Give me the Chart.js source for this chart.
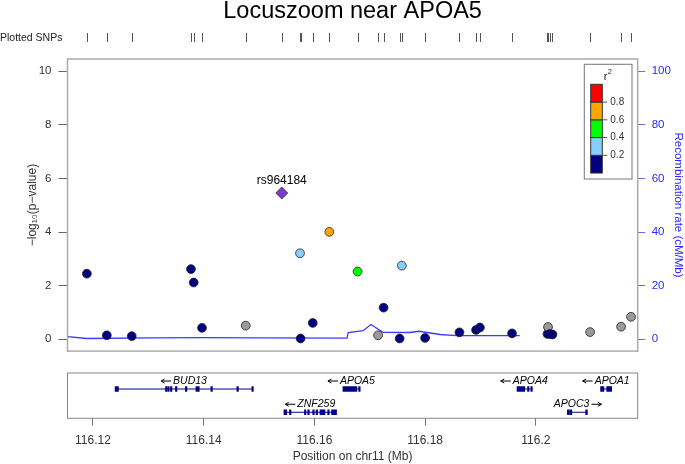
<!DOCTYPE html>
<html>
<head>
<meta charset="utf-8">
<script src="https://cdn.jsdelivr.net/npm/chart.js@4"></script>
<style>
html, body { margin: 0; padding: 0; background: #fff; }
#wrap { position: relative; width: 685px; height: 464px; }
#main { position: absolute; left: 0; top: 0; }
#genes { position: absolute; left: 0; top: 365px; }
</style>
</head>
<body>
<div id="wrap">
  <canvas id="main" width="685" height="365"></canvas>
  <canvas id="genes" width="685" height="99"></canvas>
</div>
<script>
// region shown (Mb on chr11) and tick labels
const xRange = [116.1154, 116.2184];
const xTicks = [116.12, 116.14, 116.16, 116.18, 116.2];
const pTicks = [0, 2, 4, 6, 8, 10];
const recTicks = [0, 20, 40, 60, 80, 100];

// SNPs: position (Mb), -log10(p), r2 with the lead SNP (null = no LD info)
const snpPos = [116.1189, 116.1225, 116.1270, 116.1377, 116.1382, 116.1397, 116.1476,
  116.1574, 116.1575, 116.1597, 116.1627, 116.1678, 116.1715, 116.1725, 116.1754,
  116.1758, 116.1800, 116.1862, 116.1892, 116.1899, 116.1957, 116.2021, 116.2022,
  116.2025, 116.2030, 116.2098, 116.2154, 116.2172];
const snpLogP = [2.45, 0.15, 0.12, 2.62, 2.12, 0.43, 0.51,
  3.21, 0.03, 0.61, 4.01, 2.53, 0.15, 1.18, 0.03,
  2.75, 0.05, 0.26, 0.35, 0.44, 0.22, 0.20, 0.46,
  0.20, 0.18, 0.27, 0.47, 0.84];
const snpR2 = [0.1, 0.1, 0.1, 0.1, 0.1, 0.1, null,
  0.3, 0.1, 0.1, 0.7, 0.5, null, 0.1, 0.1,
  0.3, 0.1, 0.1, 0.1, 0.1, 0.1, 0.1, null,
  0.1, 0.1, null, null, null];

const leadName = 'rs964184';
const leadPos = 116.1541;
const leadLogP = 5.46;

// recombination rate (cM/Mb)
const recPos = [116.1154, 116.1189, 116.1300, 116.1400, 116.1500, 116.1659, 116.1661,
  116.1688, 116.1702, 116.1724, 116.1772, 116.1789, 116.1827, 116.1857, 116.1971];
const recRate = [1.0, 0.3, 0.5, 0.65, 0.5, 0.45, 2.5, 3.2, 5.5, 2.6, 2.55, 3.0, 1.8, 1.4, 1.4];

// LD colour key
const ldBreaks = [0, 0.2, 0.4, 0.6, 0.8, 1];
const ldColors = ['#000080', '#87CEFA', '#00FF00', '#FFA500', '#FF0000'];
const noLdColor = '#9a9a9a';
const leadColor = '#7D3CC8';

// genes
const geneNames = ['BUD13', 'ZNF259', 'APOA5', 'APOA4', 'APOC3', 'APOA1'];
const geneStart = [116.1240, 116.1545, 116.16515, 116.1966, 116.2058, 116.2117];
const geneEnd = [116.1489, 116.1640, 116.16822, 116.1992, 116.2093, 116.2137];
const geneStrand = ['-', '-', '-', '-', '+', '-'];
const geneRow = [1, 2, 1, 1, 2, 1];
const geneExons = [
  [[116.1240, 116.1246], [116.1332], [116.1336], [116.1341], [116.1350], [116.1368],
   [116.1386, 116.1392], [116.1414], [116.1461], [116.1488]],
  [[116.1545, 116.1550], [116.1556], [116.1583], [116.1589], [116.1598], [116.1604],
   [116.1610, 116.1619], [116.1625], [116.1631, 116.1640]],
  [[116.16515, 116.1673], [116.1675], [116.1681]],
  [[116.1966, 116.1980], [116.1986], [116.1992]],
  [[116.2058], [116.2061, 116.2065], [116.2090, 116.2093]],
  [[116.2117, 116.2123], [116.2128, 116.2137]]
];

Chart.defaults.font.family = '"Liberation Sans", Arial, sans-serif';
Chart.defaults.color = '#333';

function ldColor(r2) {
  if (r2 === null) return noLdColor;
  for (let i = 0; i < ldColors.length; i++) {
    if (r2 >= ldBreaks[i] && r2 < ldBreaks[i + 1]) return ldColors[i];
  }
  return ldColors[ldColors.length - 1];
}

const mainDecor = {
  id: 'mainDecor',
  afterDatasetsDraw(chart) {
    const {ctx, scales} = chart;
    ctx.save();
    ctx.font = '12px "Liberation Sans"';
    ctx.fillStyle = '#000';
    ctx.textAlign = 'center';
    ctx.textBaseline = 'middle';
    ctx.fillText(leadName, scales.x.getPixelForValue(leadPos), scales.y.getPixelForValue(leadLogP) - 12);
    ctx.restore();
  },
  afterDraw(chart) {
    const {ctx, chartArea: a, scales} = chart;
    ctx.save();
    // frame
    ctx.strokeStyle = '#aaa';
    ctx.lineWidth = 1.5;
    ctx.strokeRect(a.left, a.top, a.right - a.left, a.bottom - a.top);

    // title
    ctx.fillStyle = '#000';
    ctx.font = '23.5px "Liberation Sans"';
    ctx.textAlign = 'center';
    ctx.textBaseline = 'middle';
    ctx.fillText('Locuszoom near APOA5', (a.left + a.right) / 2, 12);

    // plotted SNPs rug
    ctx.font = '10.5px "Liberation Sans"';
    ctx.textAlign = 'left';
    ctx.fillStyle = '#222';
    ctx.fillText('Plotted SNPs', 0, 38);
    ctx.strokeStyle = '#555';
    ctx.lineWidth = 1;
    snpPos.concat([leadPos]).forEach(p => {
      const x = Math.round(scales.x.getPixelForValue(p)) + 0.5;
      ctx.beginPath();
      ctx.moveTo(x, 33);
      ctx.lineTo(x, 42);
      ctx.stroke();
    });

    // r2 key
    const bx = a.right - 53.4, by = a.top + 5.3;
    ctx.fillStyle = '#fff';
    ctx.fillRect(bx, by, 47.7, 114.7);
    ctx.strokeStyle = '#777';
    ctx.lineWidth = 1;
    ctx.strokeRect(bx, by, 47.7, 114.7);
    ctx.fillStyle = '#222';
    ctx.font = '11px "Liberation Sans"';
    ctx.fillText('r', bx + 19.5, by + 13);
    ctx.font = '7.5px "Liberation Sans"';
    ctx.fillText('2', bx + 23.5, by + 8);
    const segH = 17.75, cx = bx + 6.4, cw = 11.6, cTop = by + 20;
    for (let i = 0; i < ldColors.length; i++) {
      const y = cTop + (ldColors.length - 1 - i) * segH;
      ctx.fillStyle = ldColors[i];
      ctx.fillRect(cx, y, cw, segH);
      ctx.strokeStyle = '#333';
      ctx.strokeRect(cx, y, cw, segH);
    }
    ctx.font = '10px "Liberation Sans"';
    ctx.fillStyle = '#333';
    ctx.strokeStyle = '#555';
    for (let i = 1; i < ldBreaks.length - 1; i++) {
      const y = cTop + (ldColors.length - i) * segH;
      ctx.beginPath();
      ctx.moveTo(cx + cw, y);
      ctx.lineTo(cx + cw + 5, y);
      ctx.stroke();
      ctx.fillText(ldBreaks[i].toFixed(1), cx + cw + 8, y);
    }
    ctx.restore();
  }
};

new Chart(document.getElementById('main'), {
  type: 'scatter',
  data: {
    datasets: [
      {
        label: leadName,
        data: [{x: leadPos, y: leadLogP}],
        pointStyle: 'rectRot',
        pointRadius: 6,
        backgroundColor: leadColor,
        borderColor: '#333',
        borderWidth: 0.8
      },
      {
        label: 'SNPs',
        data: snpPos.map((p, i) => ({x: p, y: snpLogP[i]})),
        pointRadius: 4.4,
        backgroundColor: snpR2.map(ldColor),
        borderColor: '#222',
        borderWidth: 0.8
      },
      {
        type: 'line',
        label: 'Recombination rate',
        data: recPos.map((p, i) => ({x: p, y: recRate[i]})),
        yAxisID: 'y1',
        borderColor: '#3b3bff',
        borderWidth: 1.3,
        pointRadius: 0,
        tension: 0
      }
    ]
  },
  options: {
    responsive: false,
    animation: false,
    layout: {padding: {top: 59, bottom: 7, left: 0, right: 0}},
    scales: {
      x: {type: 'linear', min: xRange[0], max: xRange[1], display: false},
      y: {
        position: 'left',
        min: -0.44, max: 10.46,
        afterBuildTicks: s => { s.ticks = pTicks.map(v => ({value: v})); },
        afterFit: s => { s.width = 67.5; },
        ticks: {padding: 7, color: '#333', font: {size: 11.5}},
        grid: {drawOnChartArea: false, tickLength: 9, color: '#666'},
        border: {color: '#777'},
        title: {display: true, text: '\u2212log\u2081\u2080(p\u2212value)', color: '#333',
          font: {size: 12}, padding: {top: 25.8, bottom: 0}}
      },
      y1: {
        position: 'right',
        min: -4.4, max: 104.6,
        afterBuildTicks: s => { s.ticks = recTicks.map(v => ({value: v})); },
        afterFit: s => { s.width = 47.3; },
        ticks: {padding: 6.5, color: '#2a2aff', font: {size: 11.5}},
        grid: {drawOnChartArea: false, tickLength: 7.5, color: '#6a6ae6'},
        border: {color: '#6a6ae6'},
        title: {display: true, text: 'Recombination rate (cM/Mb)', color: '#2a2aff',
          font: {size: 11.5}, padding: {top: 0, bottom: 0}}
      }
    },
    plugins: {legend: {display: false}, tooltip: {enabled: false}}
  },
  plugins: [mainDecor]
});

// gene track
const geneColor = '#000088';
const geneDecor = {
  id: 'geneDecor',
  afterDraw(chart) {
    const {ctx, chartArea: a, scales} = chart;
    ctx.save();
    ctx.strokeStyle = '#888';
    ctx.lineWidth = 1;
    ctx.strokeRect(a.left, a.top, a.right - a.left, a.bottom - a.top);
    ctx.font = 'italic 10.5px "Liberation Sans"';
    ctx.fillStyle = '#000';
    ctx.strokeStyle = '#000';
    ctx.textBaseline = 'middle';
    ctx.textAlign = 'left';
    geneNames.forEach((name, i) => {
      const mid = scales.x.getPixelForValue((geneStart[i] + geneEnd[i]) / 2);
      const y = scales.y.getPixelForValue(geneRow[i]) - 8;
      const tw = ctx.measureText(name).width;
      const arrow = 10, gap = 2;
      const total = tw + arrow + gap;
      let x0 = mid - total / 2;
      let ax0, ax1;
      if (geneStrand[i] === '-') {
        ax0 = x0; ax1 = x0 + arrow;
        ctx.fillText(name, x0 + arrow + gap, y);
      } else {
        ctx.fillText(name, x0, y);
        ax0 = x0 + tw + gap; ax1 = ax0 + arrow;
      }
      ctx.beginPath();
      ctx.moveTo(ax0, y);
      ctx.lineTo(ax1, y);
      ctx.stroke();
      const tip = geneStrand[i] === '-' ? ax0 : ax1;
      const dir = geneStrand[i] === '-' ? 1 : -1;
      ctx.beginPath();
      ctx.moveTo(tip + dir * 3.5, y - 2);
      ctx.lineTo(tip, y);
      ctx.lineTo(tip + dir * 3.5, y + 2);
      ctx.stroke();
    });
    ctx.restore();
  }
};

const exonData = [];
geneExons.forEach((list, g) => {
  list.forEach(e => {
    const s = e[0], t = e.length > 1 ? e[1] : e[0];
    exonData.push({x: s === t ? [s - 0.0001, t + 0.0001] : [s, t], y: geneRow[g]});
  });
});

new Chart(document.getElementById('genes'), {
  type: 'scatter',
  data: {
    datasets: geneNames.map((n, i) => ({
      type: 'line',
      label: n,
      data: [{x: geneStart[i], y: geneRow[i]}, {x: geneEnd[i], y: geneRow[i]}],
      borderColor: geneColor,
      borderWidth: 1,
      pointRadius: 0
    })).concat([{
      type: 'bar',
      label: 'exons',
      indexAxis: 'y',
      data: exonData,
      backgroundColor: geneColor,
      borderWidth: 0,
      barThickness: 5,
      minBarLength: 1.5,
      grouped: false
    }])
  },
  options: {
    responsive: false,
    animation: false,
    layout: {padding: {top: 8, bottom: 0, left: 67.5, right: 47.3}},
    scales: {
      x: {
        type: 'linear', min: xRange[0], max: xRange[1], offset: false,
        afterBuildTicks: s => { s.ticks = xTicks.map(v => ({value: v})); },
        afterFit: s => { s.height = 45.7; },
        ticks: {padding: 8, color: '#333', font: {size: 12}, maxRotation: 0, callback: v => String(v)},
        grid: {drawOnChartArea: false, tickLength: 7.4, color: '#777'},
        border: {display: false},
        title: {display: true, text: 'Position on chr11 (Mb)', color: '#333',
          font: {size: 12}, padding: {top: 0, bottom: 0}}
      },
      y: {type: 'linear', min: 0.31, max: 2.26, reverse: true, display: false, offset: false}
    },
    plugins: {legend: {display: false}, tooltip: {enabled: false}}
  },
  plugins: [geneDecor]
});
</script>
</body>
</html>
